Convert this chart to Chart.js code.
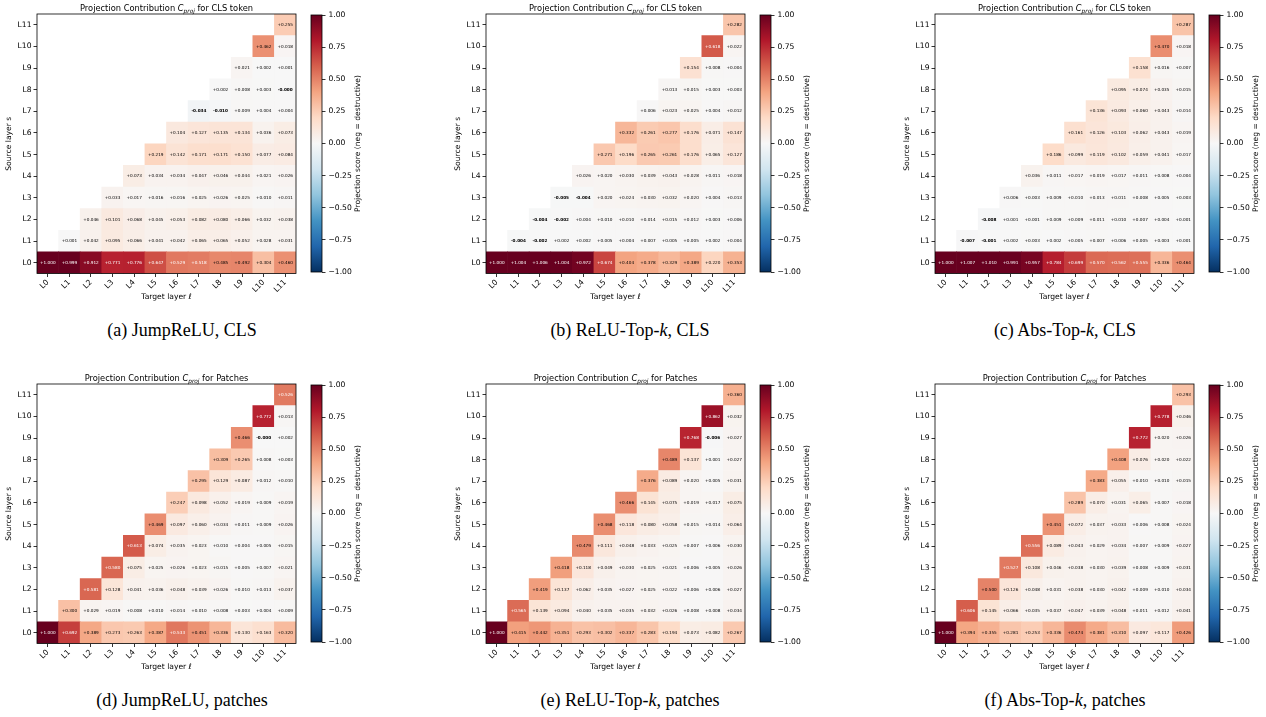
<!DOCTYPE html>
<html>
<head>
<meta charset="utf-8">
<script src="https://cdn.jsdelivr.net/npm/chart.js@4.4.1/dist/chart.umd.min.js"></script>
<style>
    body { margin: 0; background: #fff; width: 1266px; height: 717px; position: relative; overflow: hidden; }
    .panel { position: absolute; width: 440px; height: 360px; }
    .panel canvas { position: absolute; }
    .caption { position: absolute; width: 400px; text-align: center; font-family: 'Liberation Serif', serif; font-size: 18px; color: #000; }
</style>
</head>
<body>
<div class="panel" style="left:0;top:0"><canvas id="hmA" width="305" height="305" style="left:0;top:0"></canvas><canvas id="cbA" width="75" height="305" style="left:300px;top:0"></canvas></div>
<div class="panel" style="left:449px;top:0"><canvas id="hmB" width="305" height="305" style="left:0;top:0"></canvas><canvas id="cbB" width="75" height="305" style="left:300px;top:0"></canvas></div>
<div class="panel" style="left:898px;top:0"><canvas id="hmC" width="305" height="305" style="left:0;top:0"></canvas><canvas id="cbC" width="75" height="305" style="left:300px;top:0"></canvas></div>
<div class="panel" style="left:0;top:370px"><canvas id="hmD" width="305" height="305" style="left:0;top:0"></canvas><canvas id="cbD" width="75" height="305" style="left:300px;top:0"></canvas></div>
<div class="panel" style="left:449px;top:370px"><canvas id="hmE" width="305" height="305" style="left:0;top:0"></canvas><canvas id="cbE" width="75" height="305" style="left:300px;top:0"></canvas></div>
<div class="panel" style="left:898px;top:370px"><canvas id="hmF" width="305" height="305" style="left:0;top:0"></canvas><canvas id="cbF" width="75" height="305" style="left:300px;top:0"></canvas></div>

<div class="caption" style="left:-18px;top:320px">(a) JumpReLU, CLS</div>
<div class="caption" style="left:430px;top:320px">(b) ReLU-Top-<i>k</i>, CLS</div>
<div class="caption" style="left:865px;top:320px">(c) Abs-Top-<i>k</i>, CLS</div>
<div class="caption" style="left:-18px;top:690px">(d) JumpReLU, patches</div>
<div class="caption" style="left:430px;top:690px">(e) ReLU-Top-<i>k</i>, patches</div>
<div class="caption" style="left:865px;top:690px">(f) Abs-Top-<i>k</i>, patches</div>

<script>
// Layers (source s on y, target t on x)
const layers = ['L0', 'L1', 'L2', 'L3', 'L4', 'L5', 'L6', 'L7', 'L8', 'L9', 'L10', 'L11'];
const cbarTicks = [-1, -0.75, -0.5, -0.25, 0, 0.25, 0.5, 0.75, 1];

// Each row s holds C_proj for targets t = s .. L11
const clsJumpReLU = [
    [1.000, 0.999, 0.912, 0.771, 0.776, 0.647, 0.529, 0.518, 0.485, 0.492, 0.304, 0.460],
    [0.001, 0.042, 0.095, 0.066, 0.041, 0.042, 0.065, 0.065, 0.052, 0.028, 0.031],
    [0.046, 0.101, 0.068, 0.045, 0.053, 0.082, 0.080, 0.066, 0.032, 0.038],
    [0.033, 0.017, 0.016, 0.016, 0.025, 0.026, 0.025, 0.010, 0.011],
    [0.073, 0.034, 0.034, 0.047, 0.046, 0.044, 0.021, 0.026],
    [0.219, 0.142, 0.171, 0.171, 0.150, 0.077, 0.084],
    [0.104, 0.127, 0.135, 0.134, 0.036, 0.073],
    [-0.034, -0.010, 0.009, 0.004, 0.004],
    [0.002, 0.008, 0.003, -0.000],
    [0.021, 0.002, 0.001],
    [0.462, 0.018],
    [0.255]
];
const clsReluTopK = [
    [1.000, 1.004, 1.006, 1.004, 0.972, 0.674, 0.404, 0.378, 0.329, 0.389, 0.220, 0.353],
    [-0.004, -0.002, 0.002, 0.002, 0.005, 0.004, 0.007, 0.005, 0.005, 0.002, 0.004],
    [-0.004, -0.002, 0.004, 0.010, 0.010, 0.014, 0.015, 0.012, 0.003, 0.006],
    [-0.005, -0.004, 0.020, 0.024, 0.030, 0.032, 0.020, 0.004, 0.013],
    [0.026, 0.020, 0.030, 0.039, 0.043, 0.028, 0.011, 0.018],
    [0.271, 0.196, 0.265, 0.261, 0.176, 0.065, 0.127],
    [0.332, 0.261, 0.277, 0.176, 0.071, 0.147],
    [0.006, 0.023, 0.025, 0.004, 0.012],
    [0.013, 0.015, 0.003, 0.003],
    [0.154, 0.008, 0.004],
    [0.618, 0.022],
    [0.282]
];
const clsAbsTopK = [
    [1.000, 1.007, 1.010, 0.991, 0.957, 0.784, 0.699, 0.570, 0.562, 0.555, 0.336, 0.464],
    [-0.007, -0.001, 0.002, 0.003, 0.002, 0.005, 0.007, 0.006, 0.005, 0.003, 0.001],
    [-0.008, 0.001, 0.001, 0.009, 0.009, 0.011, 0.010, 0.007, 0.004, 0.001],
    [0.006, 0.003, 0.009, 0.010, 0.013, 0.011, 0.008, 0.005, 0.003],
    [0.036, 0.011, 0.017, 0.019, 0.017, 0.011, 0.008, 0.004],
    [0.186, 0.099, 0.119, 0.102, 0.059, 0.041, 0.017],
    [0.161, 0.126, 0.103, 0.062, 0.043, 0.019],
    [0.136, 0.093, 0.060, 0.043, 0.014],
    [0.095, 0.074, 0.035, 0.015],
    [0.158, 0.016, 0.007],
    [0.470, 0.018],
    [0.287]
];
const patchJumpReLU = [
    [1.000, 0.692, 0.389, 0.273, 0.263, 0.387, 0.533, 0.451, 0.336, 0.130, 0.163, 0.320],
    [0.300, 0.029, 0.019, 0.008, 0.010, 0.014, 0.010, 0.008, 0.003, 0.004, 0.009],
    [0.581, 0.128, 0.041, 0.036, 0.048, 0.039, 0.026, 0.010, 0.013, 0.037],
    [0.580, 0.075, 0.025, 0.026, 0.023, 0.015, 0.005, 0.007, 0.021],
    [0.613, 0.074, 0.035, 0.023, 0.010, 0.004, 0.005, 0.015],
    [0.469, 0.097, 0.060, 0.034, 0.011, 0.009, 0.026],
    [0.247, 0.098, 0.052, 0.019, 0.009, 0.019],
    [0.295, 0.129, 0.087, 0.012, 0.010],
    [0.309, 0.265, 0.008, 0.003],
    [0.466, -0.000, 0.002],
    [0.772, 0.013],
    [0.526]
];
const patchReluTopK = [
    [1.000, 0.415, 0.442, 0.351, 0.293, 0.302, 0.337, 0.283, 0.194, 0.073, 0.082, 0.267],
    [0.565, 0.139, 0.094, 0.040, 0.035, 0.035, 0.032, 0.026, 0.008, 0.008, 0.034],
    [0.419, 0.137, 0.062, 0.035, 0.027, 0.025, 0.022, 0.006, 0.006, 0.027],
    [0.418, 0.118, 0.049, 0.030, 0.025, 0.021, 0.006, 0.005, 0.026],
    [0.479, 0.111, 0.048, 0.033, 0.025, 0.007, 0.006, 0.030],
    [0.468, 0.118, 0.080, 0.058, 0.015, 0.014, 0.064],
    [0.466, 0.145, 0.075, 0.019, 0.017, 0.075],
    [0.376, 0.089, 0.020, 0.005, 0.031],
    [0.489, 0.137, 0.001, 0.027],
    [0.768, -0.006, 0.027],
    [0.862, 0.032],
    [0.360]
];
const patchAbsTopK = [
    [1.000, 0.394, 0.355, 0.281, 0.253, 0.336, 0.474, 0.381, 0.310, 0.097, 0.117, 0.426],
    [0.606, 0.145, 0.066, 0.035, 0.037, 0.047, 0.039, 0.048, 0.011, 0.012, 0.041],
    [0.500, 0.126, 0.048, 0.031, 0.038, 0.030, 0.042, 0.009, 0.010, 0.034],
    [0.527, 0.108, 0.046, 0.038, 0.030, 0.039, 0.008, 0.009, 0.031],
    [0.556, 0.089, 0.043, 0.029, 0.034, 0.007, 0.009, 0.027],
    [0.451, 0.072, 0.037, 0.033, 0.006, 0.008, 0.024],
    [0.289, 0.070, 0.031, 0.065, 0.007, 0.018],
    [0.383, 0.055, 0.010, 0.010, 0.015],
    [0.408, 0.076, 0.020, 0.022],
    [0.772, 0.020, 0.026],
    [0.778, 0.046],
    [0.293]
];

// RdBu_r anchors from -1 to +1
const rdbuR = ['#053061', '#2166ac', '#4393c3', '#92c5de', '#d1e5f0', '#f7f7f7',
               '#fddbc7', '#f4a582', '#d6604d', '#b2182b', '#67001f'];

const FONT = "'DejaVu Sans', sans-serif";

function hexToRgb(h) {
    return [1, 3, 5].map(i => parseInt(h.substr(i, 2), 16));
}

function cmap(v) {
    const p = (Math.max(-1, Math.min(1, v)) + 1) / 2 * 10;
    const i = Math.min(9, Math.floor(p));
    const f = p - i;
    const a = hexToRgb(rdbuR[i]), b = hexToRgb(rdbuR[i + 1]);
    const c = a.map((x, k) => Math.round(x + (b[k] - x) * f));
    return `rgb(${c[0]}, ${c[1]}, ${c[2]})`;
}

function fmt(v) {
    const neg = v < 0 || Object.is(v, -0);
    return (neg ? '-' : '+') + Math.abs(v).toFixed(3);
}

// box round the plot area
const framePlugin = {
    id: 'frame',
    afterDraw(chart) {
        const { ctx, chartArea: a } = chart;
        ctx.save();
        ctx.strokeStyle = '#000';
        ctx.lineWidth = 0.8;
        ctx.strokeRect(a.left, a.top, a.right - a.left, a.bottom - a.top);
        ctx.restore();
    }
};

// value written in each cell
const cellLabels = {
    id: 'cellLabels',
    afterDatasetsDraw(chart) {
        const { ctx } = chart;
        ctx.save();
        ctx.textAlign = 'center';
        ctx.textBaseline = 'middle';
        chart.data.datasets.forEach((ds, di) => {
            const meta = chart.getDatasetMeta(di);
            meta.data.forEach((bar, t) => {
                const v = ds.scores[t];
                if (v === null) return;
                const neg = v < 0 || Object.is(v, -0);
                ctx.font = `${neg ? 'bold ' : ''}4.2px ${FONT}`;
                ctx.fillStyle = Math.abs(v) > 0.5 ? '#fff' : '#000';
                ctx.fillText(fmt(v), bar.x, (bar.y + bar.base) / 2);
            });
        });
        ctx.restore();
    }
};

// title with italic C and subscript "proj"
const titlePlugin = {
    id: 'mathTitle',
    afterDraw(chart, args, opts) {
        const { ctx, chartArea: a } = chart;
        const size = 8.3;
        const parts = [
            { text: 'Projection Contribution ', font: `${size}px ${FONT}`, dy: 0 },
            { text: 'C', font: `italic ${size}px ${FONT}`, dy: 0 },
            { text: 'proj', font: `italic ${size * 0.7}px ${FONT}`, dy: 2 },
            { text: ' for ' + opts.subject, font: `${size}px ${FONT}`, dy: 0 }
        ];
        ctx.save();
        ctx.fillStyle = '#000';
        ctx.textBaseline = 'alphabetic';
        let total = 0;
        parts.forEach(p => { ctx.font = p.font; p.w = ctx.measureText(p.text).width; total += p.w; });
        let x = (a.left + a.right) / 2 - total / 2;
        parts.forEach(p => {
            ctx.font = p.font;
            ctx.fillText(p.text, x, 10.5 + p.dy);
            x += p.w;
        });
        ctx.restore();
    }
};

function makeHeatmap(id, rows, subject) {
    const datasets = rows.map((row, s) => ({
        label: layers[s],
        data: layers.map((_, t) => t >= s ? [s, s + 1] : null),
        scores: layers.map((_, t) => t >= s ? row[t - s] : null),
        backgroundColor: layers.map((_, t) => t >= s ? cmap(row[t - s]) : 'rgba(0,0,0,0)'),
        borderWidth: 0,
        barPercentage: 1,
        categoryPercentage: 1,
        grouped: false
    }));

    const tickFont = { family: FONT, size: 7.6 };
    new Chart(document.getElementById(id), {
        type: 'bar',
        data: { labels: layers, datasets: datasets },
        options: {
            responsive: false,
            animation: false,
            layout: { padding: { top: 14, right: 9, left: 0, bottom: 0 } },
            plugins: {
                legend: { display: false },
                tooltip: { enabled: false },
                mathTitle: { subject: subject }
            },
            scales: {
                x: {
                    grid: { offset: false, drawOnChartArea: false, tickLength: 3.5, color: '#000', tickWidth: 0.8 },
                    border: { display: false },
                    ticks: { color: '#000', font: tickFont, minRotation: 45, maxRotation: 45, padding: 1 },
                    title: { display: true, text: 'Target layer ℓ', color: '#000', font: tickFont, padding: { top: 0, bottom: 3 } },
                    afterFit: (scale) => { scale.height = 31.5; }
                },
                y: {
                    min: 0,
                    max: 12,
                    afterBuildTicks: (scale) => { scale.ticks = layers.map((_, i) => ({ value: i + 0.5 })); },
                    grid: { drawOnChartArea: false, tickLength: 3.5, color: '#000', tickWidth: 0.8 },
                    border: { display: false },
                    ticks: { color: '#000', font: tickFont, padding: 2, callback: (v) => layers[Math.floor(v)] },
                    title: { display: true, text: 'Source layer s', color: '#000', font: tickFont, padding: { top: 4, bottom: 0 } },
                    afterFit: (scale) => { scale.width = 37; }
                }
            }
        },
        plugins: [cellLabels, framePlugin, titlePlugin]
    });
}

const cbarTitle = {
    id: 'cbarTitle',
    afterDraw(chart) {
        const { ctx, chartArea: a } = chart;
        ctx.save();
        ctx.translate(58, (a.top + a.bottom) / 2);
        ctx.rotate(-Math.PI / 2);
        ctx.textAlign = 'center';
        ctx.textBaseline = 'middle';
        ctx.fillStyle = '#000';
        ctx.font = `7.6px ${FONT}`;
        ctx.fillText('Projection score (neg = destructive)', 0, 0);
        ctx.restore();
    }
};

function makeColorbar(id) {
    new Chart(document.getElementById(id), {
        type: 'bar',
        data: {
            labels: [''],
            datasets: [{
                data: [[-1, 1]],
                backgroundColor: (c) => {
                    const a = c.chart.chartArea;
                    if (!a) return '#f7f7f7';
                    const g = c.chart.ctx.createLinearGradient(0, a.bottom, 0, a.top);
                    rdbuR.forEach((col, i) => g.addColorStop(i / 10, col));
                    return g;
                },
                borderWidth: 0,
                barPercentage: 1,
                categoryPercentage: 1
            }]
        },
        options: {
            responsive: false,
            animation: false,
            layout: { padding: { top: 15, bottom: 33, left: 11, right: 0 } },
            plugins: { legend: { display: false }, tooltip: { enabled: false } },
            scales: {
                x: { display: false },
                y: {
                    position: 'right',
                    min: -1,
                    max: 1,
                    afterBuildTicks: (scale) => { scale.ticks = cbarTicks.map(v => ({ value: v })); },
                    grid: { drawOnChartArea: false, tickLength: 3.5, color: '#000', tickWidth: 0.8 },
                    border: { display: false },
                    ticks: {
                        color: '#000',
                        font: { family: FONT, size: 7.6 },
                        padding: 3,
                        callback: (v) => (v < 0 ? '\u2212' : '') + Math.abs(v).toFixed(2)
                    },
                    afterFit: (scale) => { scale.width = 53; }
                }
            }
        },
        plugins: [framePlugin, cbarTitle]
    });
}

makeHeatmap('hmA', clsJumpReLU, 'CLS token');
makeHeatmap('hmB', clsReluTopK, 'CLS token');
makeHeatmap('hmC', clsAbsTopK, 'CLS token');
makeHeatmap('hmD', patchJumpReLU, 'Patches');
makeHeatmap('hmE', patchReluTopK, 'Patches');
makeHeatmap('hmF', patchAbsTopK, 'Patches');
['cbA', 'cbB', 'cbC', 'cbD', 'cbE', 'cbF'].forEach(makeColorbar);
</script>
</body>
</html>
